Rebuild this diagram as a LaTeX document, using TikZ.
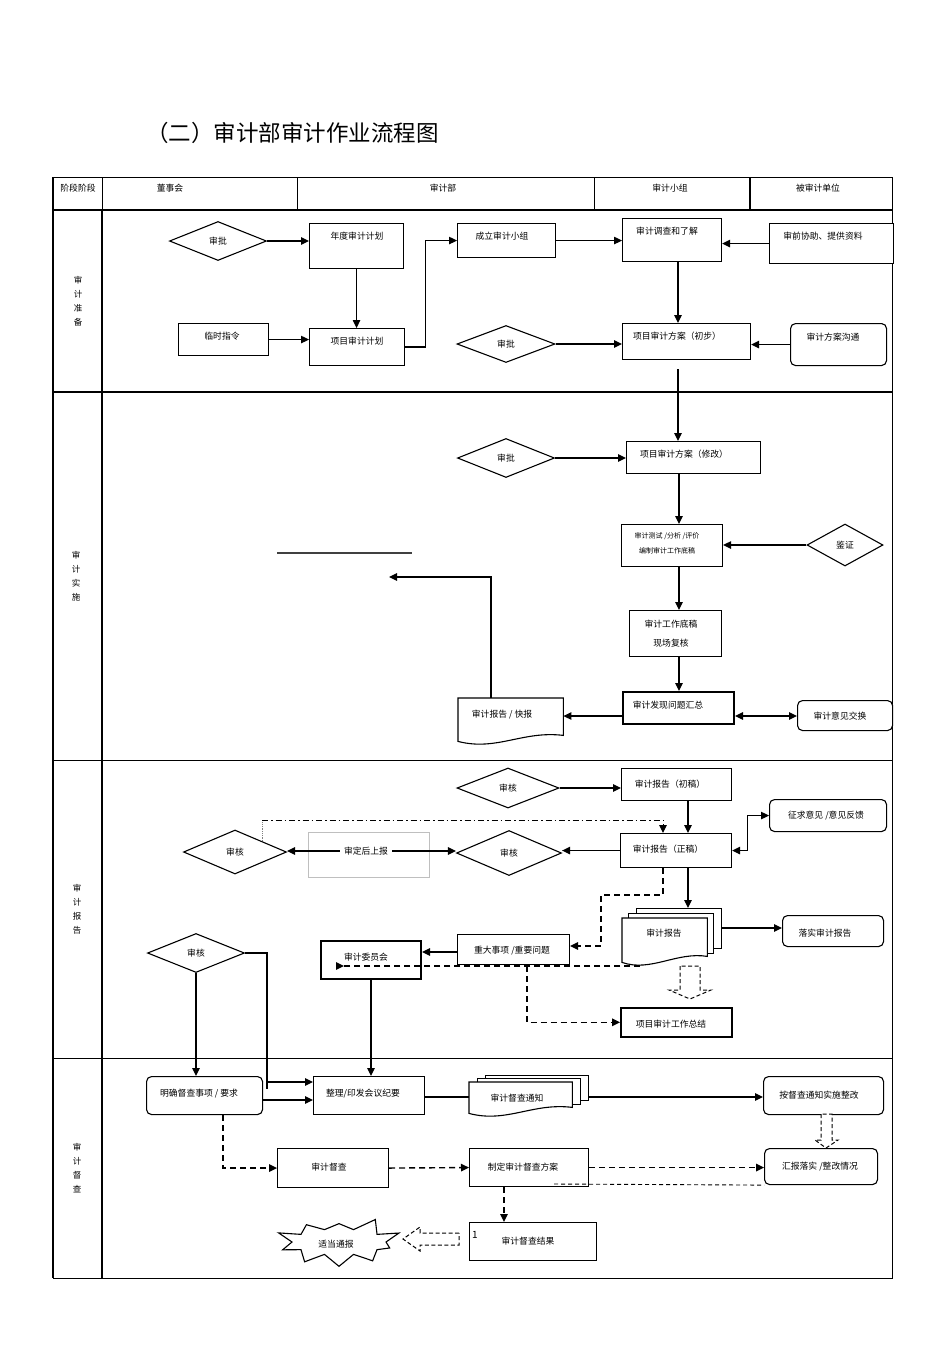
\documentclass[tikz,border=0pt]{standalone}
\usepackage{fontspec}
\setmainfont{Noto Sans CJK SC}
\usetikzlibrary{arrows.meta,shapes.geometric,shapes.symbols,calc}
\newcommand{\Bx}[6][box]{\pgfmathsetmacro{\bxw}{#5-#3}\pgfmathsetmacro{\bxh}{#6-#4}\node[#1,minimum width=\bxw pt,minimum height=\bxh pt,anchor=north west] (#2) at (#3,#4) {};}
\newcommand{\Dc}[5]{\Bx[draw=none]{#1}{#2}{#3}{#4}{#5}\draw[line width=1.1pt,fill=white] (#1.north west) -- (#1.north east) -- ([yshift=9pt]#1.south east) .. controls ([xshift=12pt,yshift=14pt]#1.south) and ([xshift=-14pt,yshift=-7pt]#1.south) .. ([yshift=3pt]#1.south west) -- cycle;}
\begin{document}
\begin{tikzpicture}[x=1pt,y=-1pt,
  every node/.style={font=\fontsize{8.8}{10}\selectfont, inner sep=0pt},
  box/.style={draw, line width=1.1pt, fill=white},
  tbox/.style={box, line width=2pt},
  rbox/.style={box, rounded corners=5pt},
  dia/.style={draw, diamond, line width=1.1pt, fill=white},
  arr/.style={-{Triangle[length=8pt,width=7.5pt]}, line width=1.2pt},
  barr/.style={{Triangle[length=8pt,width=7.5pt]}-{Triangle[length=8pt,width=7.5pt]}, line width=1.2pt},
  darr/.style={arr, dash pattern=on 6pt off 4pt, line width=1.4pt},
  hollow/.style={draw, dash pattern=on 4pt off 2.5pt, line width=1pt, fill=white},
  tbl/.style={line width=1pt},
  tblk/.style={line width=1.8pt},
  lane/.style={font=\fontsize{8.5}{14}\selectfont, align=center},
  small/.style={font=\fontsize{7}{15}\selectfont, align=center}
]
\fill[white] (0,0) rectangle (950,1345);
\useasboundingbox (0,0) rectangle (950,1345);

% title
\node[anchor=west,font=\fontsize{22.5}{24}\selectfont] (title) at (146,133) {（二）审计部审计作业流程图};

% table
\draw[tbl] (53,177) rectangle (892,1278);
\draw[tblk] (53,177) -- (53,1278);
\draw[tblk] (102,210) -- (102,1278);
\draw[tbl] (102,177) -- (102,210);
\draw[tblk] (53,210) -- (892,210);
\draw[tbl] (297,177) -- (297,210);
\draw[tbl] (594,177) -- (594,210);
\draw[tblk] (750,177) -- (750,210);
\draw[tblk] (53,392) -- (892,392);
\draw[tbl] (53,760) -- (892,760);
\draw[tbl] (53,1058) -- (892,1058);
\draw[tbl] (53,1278) -- (892,1278);

% header texts
\node (h0) at (78,188) {阶段阶段};
\node (h1) at (170,188) {董事会};
\node (h2) at (443,188) {审计部};
\node (h3) at (670,188) {审计小组};
\node (h4) at (818,188) {被审计单位};

% lane labels
\node[lane] (L1) at (78,301) {审\\计\\准\\备};
\node[lane] (L2) at (76,576) {审\\计\\实\\施};
\node[lane] (L3) at (77,909) {审\\计\\报\\告};
\node[lane] (L4) at (77,1168) {审\\计\\督\\查};

% helper coordinates
\coordinate (colA) at (679,0);
\coordinate (colC) at (491,0);
\coordinate (colD) at (688,0);
\coordinate (colE) at (663,0);
\coordinate (colF) at (267,0);
\coordinate (rowB) at (0,716);
\coordinate (rowE) at (0,952);
\coordinate (rowF) at (0,1082);
\coordinate (rowG) at (0,1100);
\coordinate (rowH) at (0,928);
\coordinate (rowI) at (0,1097);

% ---------- 审计准备 ----------
\node[dia, minimum width=97pt, minimum height=39pt] (d1) at (218,241) {审批};
\Bx{ndjh}{309}{223}{403}{268}
\node (t-ndjh) at (357,236) {年度审计计划};
\Bx{lszl}{178}{323}{268}{355}
\node (t-lszl) at (222,336) {临时指令};
\Bx{xmjh}{309}{328}{404}{365}
\node (t-xmjh) at (357,341) {项目审计计划};
\Bx{clxz}{457}{223}{555}{257}
\node (t-clxz) at (502,236) {成立审计小组};
\Bx{dcl}{622}{218}{721}{261}
\node (t-dcl) at (667,231) {审计调查和了解};
\Bx{sqxz}{769}{223}{893}{263}
\node (t-sqxz) at (823,236) {审前协助、提供资料};
\Bx{fa1}{622}{323}{750}{359}
\node (t-fa1) at (677,336) {项目审计方案（初步）};
\node[dia, minimum width=98pt, minimum height=37pt] (d2) at (506,344) {审批};
\Bx[rbox]{gt}{790}{323}{886}{365}
\node (t-gt) at (833,337) {审计方案沟通};
\coordinate (c1) at (678,369);

\draw[arr] (d1.east) -- (d1.east -| ndjh.west);
\draw[arr] (ndjh.south) -- (ndjh.south |- xmjh.north);
\draw[arr] (lszl.east) -- (lszl.east -| xmjh.west);
\draw[arr] (xmjh.east) -- ++(20,0) |- (clxz.west);
\draw[arr] (clxz.east) -- (clxz.east -| dcl.west);
\draw[arr] (sqxz.west) -- (sqxz.west -| dcl.east);
\draw[arr] (dcl.south -| c1) -- (fa1.north -| c1);
\draw[arr] (d2.east) -- (d2.east -| fa1.west);
\draw[arr] (gt.west) -- (gt.west -| fa1.east);

% ---------- 审计实施 ----------
\Bx{fa2}{626}{441}{760}{473}
\node (t-fa2) at (684,454) {项目审计方案（修改）};
\node[dia, minimum width=97pt, minimum height=39pt] (d3) at (506,458) {审批};
\Bx{cs}{621}{524}{722}{566}
\node[small] (t-cs) at (667,543) {审计测试 /分析 /评价\\编制审计工作底稿};
\node[dia, minimum width=76pt, minimum height=42pt] (jz) at (845,545) {鉴证};
\Bx{dg}{629}{610}{721}{656}
\node[align=center, font=\fontsize{8.8}{19}\selectfont] (t-dg) at (671,634) {审计工作底稿\\现场复核};
\Bx[tbox]{fx}{622}{691}{733}{723}
\node (t-fx) at (668,705) {审计发现问题汇总};
\Dc{kb}{458}{698}{563}{744}
\node (t-kb) at (502,715) {审计报告 / 快报};
\Bx[rbox]{yj}{797}{700}{892}{730}
\node (t-yj) at (840,716) {审计意见交换};
\coordinate (kbend) at (389,577);
\coordinate (g1) at (277,553);
\coordinate (g2) at (412,553);
\draw[line width=1.4pt, black!75] (g1) -- (g2);

\draw[arr] (c1) -- (fa2.north -| c1);
\draw[arr] (d3.east) -- (d3.east -| fa2.west);
\draw[arr] (fa2.south -| colA) -- (cs.north -| colA);
\draw[arr] (jz.west) -- (jz.west -| cs.east);
\draw[arr] (cs.south -| colA) -- (dg.north -| colA);
\draw[arr] (dg.south -| colA) -- (fx.north -| colA);
\draw[arr] (fx.west |- rowB) -- (kb.east |- rowB);
\draw[barr] (fx.east |- rowB) -- (yj.west |- rowB);
\draw[arr] (kb.north -| colC) |- (kbend);

% ---------- 审计报告 ----------
\Bx{cg}{621}{768}{731}{800}
\node (t-cg) at (670,784) {审计报告（初稿）};
\node[dia, minimum width=102pt, minimum height=40pt] (d4) at (508,788) {审核};
\Bx{zg}{620}{833}{731}{867}
\node (t-zg) at (668,849) {审计报告（正稿）};
\Bx[rbox]{zq}{769}{799}{886}{831}
\node (t-zq) at (826,816) {征求意见 /意见反馈};
\node[dia, minimum width=103pt, minimum height=44pt] (d5) at (235,852) {审核};
\node[draw=black!25, line width=0.8pt, minimum width=121pt, minimum height=45pt] (sdb) at (369,855) {};
\node[fill=white, inner xsep=4pt, inner ysep=2pt] (t-sdb) at (366,851) {审定后上报};
\node[dia, minimum width=105pt, minimum height=45pt] (d6) at (509,853) {审核};
\Bx{sb1}{636}{908}{721}{948}
\Bx{sb2}{628}{913}{713}{953}
\Dc{sb}{622}{918}{707}{965}
\node (t-sb) at (664,933) {审计报告};
\Bx[rbox]{lsh}{782}{915}{883}{946}
\node (t-lsh) at (825,933) {落实审计报告};
\Bx{zdsx}{457}{934}{569}{964}
\node (t-zdsx) at (512,951) {重大事项 /重要问题};
\Bx[tbox]{wyh}{320}{940}{420}{978}
\node (t-wyh) at (366,957) {审计委员会};
\Bx[box, line width=1.6pt]{zj}{620}{1007}{731}{1036}
\node (t-zj) at (671,1024) {项目审计工作总结};
\node[dia, minimum width=97pt, minimum height=39pt] (d7) at (196,953) {审核};

\coordinate (dd0) at (262,841);
\coordinate (dsA) at (640,966);
\coordinate (dsL) at (336,966);
\coordinate (dsB) at (527,966);

\draw[arr] (d4.east) -- (d4.east -| cg.west);
\draw[arr] (cg.south -| colD) -- (zg.north -| colD);
\draw[arr] (zg.west) -- (zg.west -| d6.east);
\draw[barr] (zg.east) -- ++(15,0) |- (zq.west);
\draw[arr] (t-sdb.west) -- (t-sdb.west -| d5.east);
\draw[arr] (t-sdb.east) -- (t-sdb.east -| d6.west);
\draw[line width=0.8pt, black!50, densely dotted] (dd0) -- (262,820);
\draw[arr, dash pattern=on 6pt off 3pt on 1.5pt off 3pt, line width=1pt] (262,820) -- (663,820) -- (zg.north -| colE);
\draw[arr] (zg.south -| colD) -- (sb1.north -| colD);
\draw[arr] (sb1.east |- rowH) -- (lsh.west |- rowH);
\draw[darr] (zg.south -| colE) -- (663,895) -- (601,895) -- (601,946) -- (zdsx.east |- 0,946);
\draw[arr] (zdsx.west |- rowE) -- (wyh.east |- rowE);
\draw[-{Triangle[reversed,length=8pt,width=7.5pt]}, dash pattern=on 6pt off 4pt, line width=1.4pt] (dsA) -- (dsL);
\draw[darr] (dsB) |- (zj.west);
\draw[hollow] (680,966) -- (680,990) -- (669,990) -- (690,999) -- (711,990) -- (700,990) -- (700,966) -- cycle;

% ---------- 审计督查 ----------
\Bx[rbox]{mq}{146}{1076}{262}{1114}
\node (t-mq) at (199,1094) {明确督查事项 / 要求};
\Bx{zl}{313}{1076}{424}{1114}
\node (t-zl) at (363,1094) {整理/印发会议纪要};
\Bx{tb1}{485}{1075}{588}{1100}
\Bx{tb2}{477}{1078}{580}{1104}
\Dc{tz}{469}{1082}{572}{1116}
\node (t-tz) at (517,1098) {审计督查通知};
\Bx[rbox]{ag}{763}{1076}{883}{1114}
\node (t-ag) at (819,1095) {按督查通知实施整改};
\Bx[rbox]{hb}{764}{1148}{877}{1184}
\node (t-hb) at (820,1167) {汇报落实 /整改情况};
\Bx{dc}{277}{1148}{388}{1187}
\node (t-dc) at (329,1167) {审计督查};
\Bx{zd}{469}{1148}{588}{1186}
\node (t-zd) at (523,1167) {制定审计督查方案};
\Bx{jg}{469}{1222}{596}{1260}
\node (t-jg) at (528,1241) {审计督查结果};
\node[font=\fontsize{10}{11}\selectfont] (t-one) at (475,1235) {1};
\node[starburst, draw, line width=1.1pt, fill=white, minimum width=128pt, minimum height=60pt, starburst points=10, starburst point height=17pt, random starburst=3] (tbao) at (339,1242) {};
\node (t-tbao) at (336,1244) {适当通报};

\coordinate (mqd) at (223,0);
\coordinate (zdd) at (504,0);

\draw[arr] (d7.south) -- (d7.south |- mq.north);
\draw[arr] (d7.east) -- (d7.east -| colF) -- (colF |- rowF) -- (zl.west |- rowF);
\draw[line width=1.2pt] (colF |- rowF) -- (267,1089);
\draw[arr] (mq.east |- rowG) -- (zl.west |- rowG);
\draw[arr] (wyh.south) -- (wyh.south |- zl.north);
\draw[line width=1.1pt] (zl.east |- rowI) -- (tz.west |- rowI);
\draw[arr] (tb1.east |- rowI) -- (ag.west |- rowI);
\draw[hollow] (821,1114) -- (821,1140) -- (815,1140) -- (826,1148) -- (838,1140) -- (832,1140) -- (832,1114) -- cycle;
\draw[darr] (mq.south -| mqd) |- (dc.west);
\draw[darr] (dc.east) -- (zd.west);
\draw[darr] (zd.east) -- (zd.east -| hb.west);
\draw[dash pattern=on 4pt off 3pt, line width=0.9pt] (554,1184) -- (hb.south west);
\draw[darr] (zd.south -| zdd) -- (jg.north -| zdd);
\draw[hollow] (459,1233) -- (420,1233) -- (420,1227) -- (403,1239) -- (420,1251) -- (420,1245) -- (459,1245) -- cycle;
\end{tikzpicture}
\end{document}
